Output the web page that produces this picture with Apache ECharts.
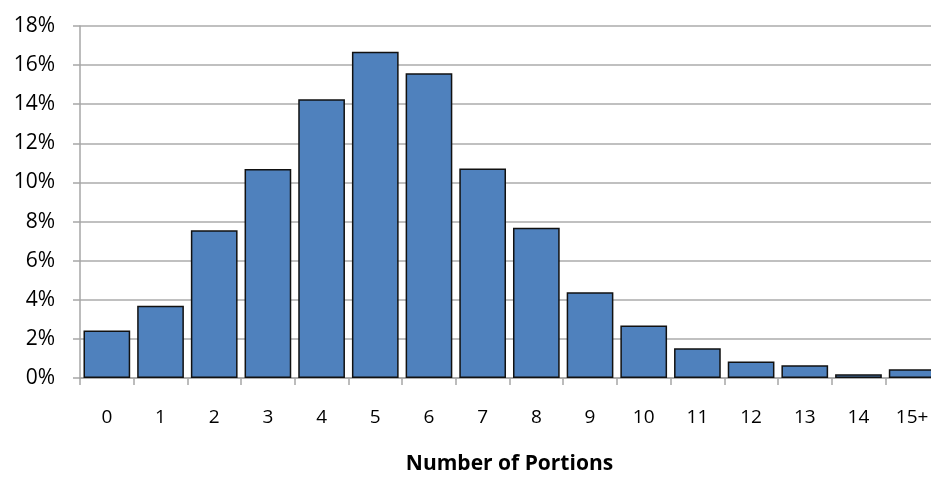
<!DOCTYPE html>
<html>
<head>
<meta charset="utf-8">
<script src="https://cdn.jsdelivr.net/npm/echarts@6/dist/echarts.min.js"></script>
<style>
  html, body { margin: 0; padding: 0; background: #fff; overflow: hidden; }
  #chart { width: 931px; height: 477px; }
</style>
</head>
<body>
<div id="chart"></div>
<script>
// Portion counts and their share of respondents (%)
const categories = ['0', '1', '2', '3', '4', '5', '6', '7', '8', '9', '10', '11', '12', '13', '14', '15+'];
const shares = [2.43, 3.69, 7.56, 10.69, 14.25, 16.68, 15.58, 10.71, 7.68, 4.39, 2.68, 1.52, 0.84, 0.65, 0.19, 0.45];
const yTicks = { min: 0, max: 18, step: 2 };
const xTitle = 'Number of Portions';

const font = '"Open Sans", "Noto Sans", sans-serif';
const chart = echarts.init(document.getElementById('chart'), null, { renderer: 'canvas' });

chart.setOption({
  animation: false,
  grid: { left: 80, top: 26, width: 859, height: 352, containLabel: false, outerBoundsMode: 'none' },
  xAxis: {
    type: 'category',
    data: categories,
    name: xTitle,
    nameLocation: 'middle',
    nameGap: 76,
    nameTextStyle: { fontFamily: font, fontSize: 21, fontWeight: 'bold', color: '#000' },
    axisLine: { lineStyle: { color: '#a6a6a6', width: 1.5 } },
    axisTick: { show: true, length: 7, lineStyle: { color: '#a6a6a6', width: 1.5 } },
    axisLabel: { fontFamily: font, fontSize: 19, color: '#000', margin: 30 }
  },
  yAxis: {
    type: 'value',
    min: yTicks.min,
    max: yTicks.max,
    interval: yTicks.step,
    axisLine: { show: true, lineStyle: { color: '#a6a6a6', width: 1.5 } },
    axisTick: { show: true, length: 7, lineStyle: { color: '#a6a6a6', width: 1.5 } },
    splitLine: { lineStyle: { color: '#ababab', width: 1.5 } },
    axisLabel: { fontFamily: font, fontSize: 21, color: '#000', margin: 25, formatter: '{value}%' }
  },
  series: [{
    type: 'bar',
    data: shares,
    barCategoryGap: '13%',
    itemStyle: { color: '#4f81bd', borderColor: '#111', borderWidth: 1.5 }
  }]
});
</script>
</body>
</html>
